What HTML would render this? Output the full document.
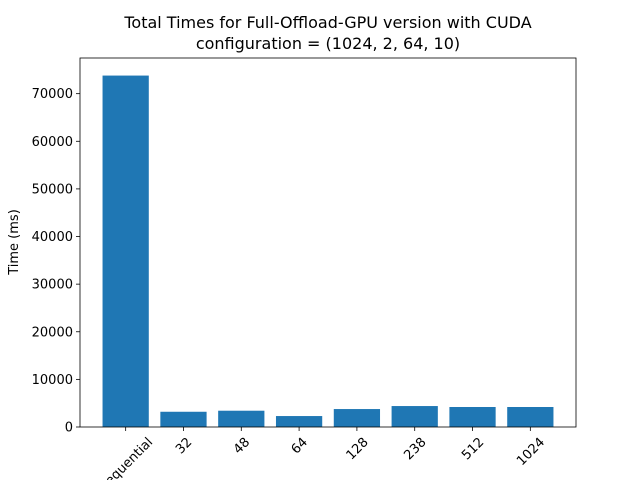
<!DOCTYPE html>
<html><head><meta charset="utf-8"><style>
body{margin:0;background:#fff;font-family:"Liberation Sans","DejaVu Sans",sans-serif}
svg text{font-family:"DejaVu Sans","Liberation Sans",sans-serif;fill:#000}
</style></head><body>
<svg id="chart" width="640" height="480" viewBox="0 0 640 480" xmlns="http://www.w3.org/2000/svg">
<rect width="640" height="480" fill="#fff"/>
<text x="328" y="28" font-size="16" text-anchor="middle">Total Times for Full-Offload-GPU version with CUDA</text>
<text x="328" y="49" font-size="16" text-anchor="middle">configuration = (1024, 2, 64, 10)</text>
<text transform="translate(18,242) rotate(-90)" font-size="13" text-anchor="middle">Time (ms)</text>
<g id="bars"></g><g id="axes"></g>
</svg>
<script>
const categories=["Sequential","32","48","64","128","238","512","1024"];
const values=[73800,3200,3420,2300,3770,4400,4200,4200];
const yTicks=[0,10000,20000,30000,40000,50000,60000,70000];
const L=80,R=576,T=58,B=427;
const ns="http://www.w3.org/2000/svg";
const n=categories.length;
const xmin=-0.4-0.05*(n-0.2),xmax=n-1+0.4+0.05*(n-0.2);
const ymax=Math.max(...values)*1.05;
const x=v=>L+(v-xmin)/(xmax-xmin)*(R-L);
const y=v=>B-v/ymax*(B-T);
function mk(t,a,p){const e=document.createElementNS(ns,t);for(const k in a)e.setAttribute(k,a[k]);p.appendChild(e);return e;}
const bars=document.getElementById('bars'),axes=document.getElementById('axes');
values.forEach((v,i)=>{
 const r=mk('rect',{x:x(i-0.4),y:y(v),width:x(i+0.4)-x(i-0.4),height:B-y(v),fill:'#1f77b4'},bars);
 
 
 const tk=mk('line',{x1:x(i),x2:x(i),y1:B,y2:B+4,stroke:'#000','stroke-width':0.8},axes);
 
 
 const lb=mk('text',{x:0,y:0,'font-size':13,'text-anchor':'middle'},axes);
 lb.textContent=categories[i];
 
 
 const w=lb.getComputedTextLength(),h=13;
 const cy=B+8+(w+h)/Math.SQRT2/2;
 lb.setAttribute('transform',`translate(${x(i)},${cy}) rotate(-45) translate(0,4.5)`);
});
yTicks.forEach(v=>{
 const tk=mk('line',{x1:L-4,x2:L,y1:y(v),y2:y(v),stroke:'#000','stroke-width':0.8},axes);
 
 
 const lb=mk('text',{x:L-7,y:y(v)+4.5,'font-size':13,'text-anchor':'end'},axes);
 lb.textContent=v;
 
 
});
const fr=mk('rect',{x:L,y:T,width:R-L,height:B-T,fill:'none',stroke:'#000','stroke-width':0.8},axes);


</script>
</body></html>
